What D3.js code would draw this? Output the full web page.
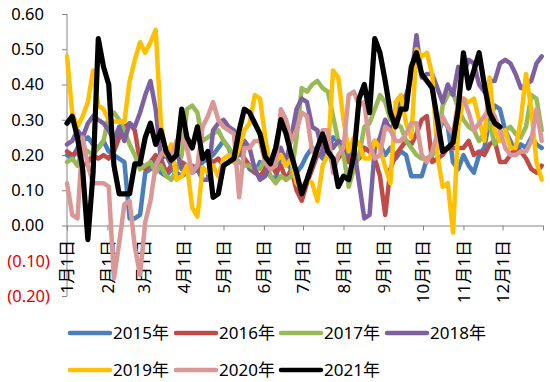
<!DOCTYPE html>
<html><head><meta charset="utf-8">
<script src="https://cdn.jsdelivr.net/npm/d3@7"></script>
<style>
html,body{margin:0;padding:0;background:#fff;}
svg{display:block;font-family:"Noto Sans","Noto Sans CJK SC",sans-serif;}
</style></head>
<body><svg id="chart" width="550" height="382"></svg>
<script>
// Sampled every 4 calendar days starting 1 Jan
const sampleStepDays = 4;
const seriesNames = ["2015年","2016年","2017年","2018年","2019年","2020年","2021年"];
const seriesColors = ["#4A7EBB","#BE4B48","#98B954","#7D60A0","#FFC000","#D99795","#000000"];
const yTickValues = [0.6,0.5,0.4,0.3,0.2,0.1,0,-0.1,-0.2];
const monthLabels = ["1月1日","2月1日","3月1日","4月1日","5月1日","6月1日","7月1日","8月1日","9月1日","10月1日","11月1日","12月1日"];

const s2015 = [0.20,0.19,0.22,0.24,0.25,0.23,0.22,0.24,0.21,0.20,
0.19,0.18,0.02,0.02,0.03,0.15,0.16,0.19,0.15,0.14,
0.16,0.15,0.14,0.15,0.17,0.16,0.18,0.19,0.20,0.22,
0.24,0.22,0.18,0.21,0.19,0.16,0.15,0.18,0.16,0.14,
0.13,0.20,0.18,0.16,0.15,0.17,0.20,0.22,0.21,0.19,
0.21,0.25,0.24,0.21,0.19,0.17,0.20,0.22,0.21,0.24,
0.23,0.20,0.22,0.19,0.21,0.20,0.14,0.14,0.14,0.19,
0.20,0.25,0.30,0.28,0.18,0.16,0.20,0.17,0.15,0.20,
0.22,0.30,0.34,0.33,0.27,0.24,0.20,0.23,0.22,0.25,
0.23,0.22];
const s2016 = [0.21,0.20,0.21,0.17,0.18,0.20,0.19,0.20,0.19,0.21,
0.25,0.28,0.29,0.27,0.18,0.16,0.18,0.20,0.19,0.15,
0.17,0.16,0.18,0.17,0.16,0.17,0.20,0.19,0.18,0.19,
0.17,0.18,0.20,0.21,0.19,0.17,0.15,0.14,0.16,0.18,
0.15,0.17,0.13,0.16,0.10,0.07,0.12,0.16,0.20,0.24,
0.22,0.17,0.19,0.21,0.18,0.20,0.19,0.22,0.21,0.19,
0.14,0.03,0.16,0.20,0.22,0.24,0.23,0.26,0.30,0.31,
0.18,0.19,0.20,0.22,0.22,0.22,0.22,0.24,0.20,0.21,
0.20,0.23,0.24,0.18,0.18,0.20,0.22,0.21,0.19,0.16,
0.15,0.17];
const s2017 = [0.18,0.19,0.17,0.22,0.21,0.20,0.22,0.24,0.31,0.32,
0.30,0.27,0.23,0.20,0.16,0.17,0.18,0.15,0.17,0.14,
0.13,0.16,0.20,0.33,0.34,0.32,0.24,0.25,0.26,0.27,
0.24,0.22,0.20,0.18,0.17,0.17,0.16,0.16,0.19,0.14,
0.12,0.14,0.13,0.14,0.25,0.39,0.38,0.40,0.41,0.39,
0.38,0.31,0.24,0.20,0.11,0.16,0.20,0.28,0.29,0.33,
0.37,0.35,0.30,0.29,0.28,0.24,0.22,0.20,0.19,0.19,
0.20,0.22,0.34,0.37,0.38,0.33,0.30,0.28,0.27,0.24,
0.26,0.29,0.23,0.25,0.27,0.28,0.26,0.25,0.28,0.37,
0.36,0.27];
const s2018 = [0.23,0.24,0.27,0.25,0.29,0.31,0.30,0.29,0.27,0.24,
0.28,0.24,0.29,0.28,0.32,0.37,0.41,0.33,0.19,0.20,
0.17,0.21,0.16,0.17,0.15,0.16,0.13,0.13,0.27,0.29,
0.30,0.28,0.27,0.20,0.24,0.22,0.16,0.13,0.14,0.18,
0.20,0.22,0.18,0.25,0.33,0.36,0.35,0.28,0.27,0.20,
0.25,0.22,0.24,0.23,0.20,0.22,0.12,0.02,0.03,0.22,
0.25,0.30,0.27,0.30,0.35,0.37,0.42,0.54,0.42,0.43,
0.43,0.39,0.35,0.40,0.37,0.45,0.43,0.47,0.46,0.40,
0.38,0.41,0.41,0.46,0.47,0.46,0.43,0.39,0.40,0.41,
0.46,0.48];
const s2019 = [0.48,0.32,0.28,0.31,0.35,0.44,0.34,0.33,0.30,0.295,
0.295,0.295,0.41,0.47,0.52,0.49,0.52,0.555,0.29,0.20,
0.23,0.13,0.14,0.17,0.05,0.025,0.165,0.15,0.17,0.14,
0.19,0.20,0.18,0.22,0.27,0.29,0.37,0.36,0.25,0.16,
0.18,0.20,0.17,0.19,0.12,0.10,0.13,0.12,0.07,0.17,
0.20,0.44,0.42,0.30,0.21,0.25,0.23,0.19,0.19,0.24,
0.22,0.165,0.12,0.35,0.37,0.29,0.25,0.50,0.48,0.49,
0.43,0.20,0.11,0.12,-0.02,0.28,0.36,0.35,0.36,0.30,
0.24,0.42,0.27,0.24,0.27,0.22,0.22,0.30,0.43,0.33,
0.18,0.13];
const s2020 = [0.12,0.03,0.02,0.25,0.17,0.12,0.12,0.12,0.11,-0.15,
-0.05,0.06,0.07,-0.06,-0.14,0.01,0.07,0.17,0.20,0.22,
0.19,0.24,0.25,0.22,0.15,0.17,0.28,0.31,0.35,0.30,
0.28,0.27,0.26,0.08,0.22,0.22,0.24,0.24,0.18,0.16,
0.17,0.33,0.30,0.24,0.27,0.32,0.31,0.21,0.21,0.27,
0.27,0.15,0.20,0.22,0.37,0.38,0.34,0.35,0.23,0.19,
0.20,0.28,0.27,0.24,0.24,0.26,0.29,0.29,0.20,0.18,
0.21,0.26,0.31,0.28,0.26,0.35,0.36,0.32,0.27,0.29,
0.31,0.33,0.31,0.27,0.22,0.20,0.20,0.21,0.21,0.24,
0.33,0.24];
const s2021 = [0.29,0.31,0.25,0.16,-0.04,0.15,0.53,0.45,0.40,0.17,
0.09,0.09,0.09,0.175,0.175,0.25,0.29,0.23,0.27,0.21,
0.185,0.20,0.33,0.25,0.22,0.28,0.19,0.21,0.08,0.09,
0.17,0.18,0.19,0.27,0.33,0.32,0.29,0.26,0.195,0.175,
0.22,0.30,0.26,0.20,0.15,0.09,0.13,0.175,0.22,0.26,
0.21,0.19,0.11,0.14,0.13,0.20,0.36,0.40,0.32,0.53,
0.49,0.41,0.32,0.28,0.33,0.33,0.45,0.49,0.43,0.41,
0.39,0.30,0.21,0.22,0.235,0.33,0.49,0.39,0.44,0.49,
0.40,0.32,0.29,0.28];
const seriesValues = [s2015,s2016,s2017,s2018,s2019,s2020,s2021];

const svg = d3.select("#chart");
const x = d3.scaleTime().domain([new Date(2021,0,1), new Date(2022,0,1)]).range([67,543]);
const y = d3.scaleLinear().domain([-0.2,0.6]).range([296,14]);
const axisColor = "#868686";

// y axis
const yAxis = d3.axisLeft(y).tickValues(yTickValues).tickSize(5).tickPadding(0).tickFormat(()=>"");
const gy = svg.append("g").attr("transform","translate(67,0)").call(yAxis);
gy.selectAll("path,line").attr("stroke",axisColor).attr("stroke-width",1);
gy.select(".domain").attr("d","M0,"+y(0.6)+"V"+y(-0.2));
svg.append("g").selectAll("text").data(yTickValues).join("text")
  .attr("x", d => d < 0 ? 50 : 44)
  .attr("y", d => y(d))
  .attr("dy","0.36em")
  .attr("text-anchor","end")
  .attr("font-size","16.5px")
  .attr("fill", d => d < 0 ? "#E00000" : "#000")
  .text(d => d < 0 ? "(" + Math.abs(d).toFixed(2) + ")" : d.toFixed(2));

// x axis at zero
const monthTicks = d3.timeMonth.range(new Date(2021,0,1), new Date(2022,0,2));
const xAxis = d3.axisBottom(x).tickValues(monthTicks).tickSize(5).tickSizeOuter(0).tickFormat(()=>"");
const gx = svg.append("g").attr("transform","translate(0,"+y(0)+")").call(xAxis);
gx.selectAll("path,line").attr("stroke",axisColor).attr("stroke-width",1);
gx.selectAll(".tick text").remove();
svg.append("g").selectAll("text").data(monthLabels).join("text")
  .attr("transform",(d,i)=>"translate("+x(monthTicks[i])+",240) rotate(-90)")
  .attr("dy","0.36em")
  .attr("text-anchor","end")
  .attr("font-size","17px")
  .attr("fill","#000")
  .text(d=>d);

// lines
const line = d3.line()
  .x((d,i)=>x(d3.timeDay.offset(new Date(2021,0,1), i*sampleStepDays)))
  .y(d=>y(d));
svg.append("g").selectAll("path").data(seriesValues).join("path")
  .attr("d", d=>line(d))
  .attr("fill","none")
  .attr("stroke",(d,i)=>seriesColors[i])
  .attr("stroke-width",(d,i)=> i===6 ? 5.2 : 4.5)
  .attr("stroke-linejoin","round")
  .attr("stroke-linecap","round");

// legend
const legPos = [[70,333],[176,333],[281,333],[387,333],[70,370],[176,370],[281,370]];
const lg = svg.append("g").selectAll("g").data(seriesNames).join("g")
  .attr("transform",(d,i)=>"translate("+legPos[i][0]+","+legPos[i][1]+")");
lg.append("line").attr("x1",0).attr("x2",40).attr("y1",0).attr("y2",0)
  .attr("stroke",(d,i)=>seriesColors[i]).attr("stroke-width",4.5).attr("stroke-linecap","round");
lg.append("text").attr("x",43).attr("dy","0.36em").attr("font-size","17px").attr("fill","#000").text(d=>d);
</script></body></html>
